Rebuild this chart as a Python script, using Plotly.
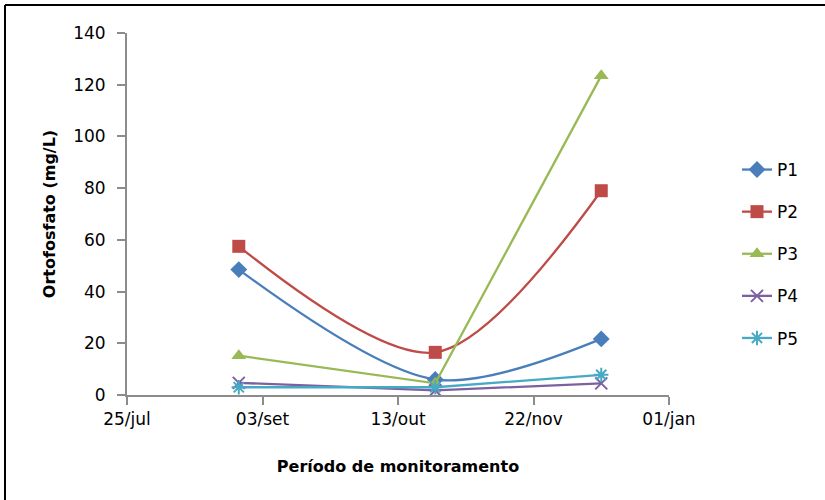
import plotly.graph_objects as go

# Sampling dates and orthophosphate concentrations (mg/L) per monitoring point
datas = ["2012-08-27", "2012-10-24", "2012-12-12"]
p1 = [48.5, 6.0, 21.7]
p2 = [57.5, 16.5, 79.0]
p3 = [15.2, 4.5, 123.5]
p4 = [4.7, 1.8, 4.5]
p5 = [3.0, 3.0, 7.8]

tick_datas = ["2012-07-25", "2012-09-03", "2012-10-13", "2012-11-22", "2013-01-01"]
tick_rotulos = ["25/jul", "03/set", "13/out", "22/nov", "01/jan"]
y_ticks = [0, 20, 40, 60, 80, 100, 120, 140]

series = [
    ("P1", p1, "#4A7EBB", "diamond", "spline"),
    ("P2", p2, "#BE4B48", "square", "spline"),
    ("P3", p3, "#98B954", "triangle-up", "linear"),
    ("P4", p4, "#7D60A0", "x-thin", "linear"),
    ("P5", p5, "#46AAC5", "asterisk", "linear"),
]

FONT = "DejaVu Sans"

fig = go.Figure()
for nome, vals, cor, simbolo, forma in series:
    if simbolo in ("x-thin", "asterisk"):
        marker = dict(symbol=simbolo, size=12, color=cor,
                      line=dict(width=2, color=cor))
    else:
        marker = dict(symbol=simbolo, size=13, color=cor)
    fig.add_trace(go.Scatter(
        x=datas, y=vals, name=nome, mode="lines+markers",
        line=dict(color=cor, width=2.3, shape=forma, smoothing=0.9),
        marker=marker, legendgroup=nome,
    ))

L, R, T, B = 127, 156, 33, 105
W, H = 825, 500
pw, ph = W - L - R, H - T - B

def px_x(X):
    return (X - L) / pw

def px_y(Y):
    return (H - B - Y) / ph

moldura = dict(color="black", width=2)

fig.update_layout(
    width=W, height=H,
    margin=dict(l=L, r=R, t=T, b=B),
    paper_bgcolor="white", plot_bgcolor="white",
    font=dict(family=FONT, size=17, color="black"),
    showlegend=True,
    legend=dict(
        x=px_x(737), y=px_y(254), xanchor="left", yanchor="middle",
        font=dict(family=FONT, size=17, color="black"),
        tracegroupgap=17, traceorder="grouped",
        bgcolor="rgba(0,0,0,0)",
    ),
    xaxis=dict(
        type="date",
        range=[tick_datas[0], tick_datas[-1]],
        tickmode="array", tickvals=tick_datas, ticktext=tick_rotulos,
        showgrid=False, zeroline=False,
        showline=True, linecolor="#8C8C8C", linewidth=2,
        ticks="outside", ticklen=8, tickwidth=2, tickcolor="#8C8C8C",
        tickfont=dict(family=FONT, size=17, color="black"),
        title=dict(text="<b>Período de monitoramento</b>",
                   font=dict(family=FONT, size=16, color="black"),
                   standoff=32),
    ),
    yaxis=dict(
        range=[0, 140],
        tickmode="array", tickvals=y_ticks,
        showgrid=False, zeroline=False,
        showline=True, linecolor="#8C8C8C", linewidth=2,
        ticks="outside", ticklen=8, tickwidth=2, tickcolor="#8C8C8C",
        ticklabelstandoff=8,
        tickfont=dict(family=FONT, size=17, color="black"),
        title=dict(text="<b>Ortofosfato (mg/L)</b>",
                   font=dict(family=FONT, size=16, color="black"),
                   standoff=14),
    ),
    shapes=[
        # page frame: top and left edges
        dict(type="line", xref="paper", yref="paper",
             x0=px_x(5), x1=px_x(830), y0=px_y(5), y1=px_y(5), line=moldura),
        dict(type="line", xref="paper", yref="paper",
             x0=px_x(5), x1=px_x(5), y0=px_y(5), y1=px_y(505), line=moldura),
    ],
)

fig.write_html("out.html")
